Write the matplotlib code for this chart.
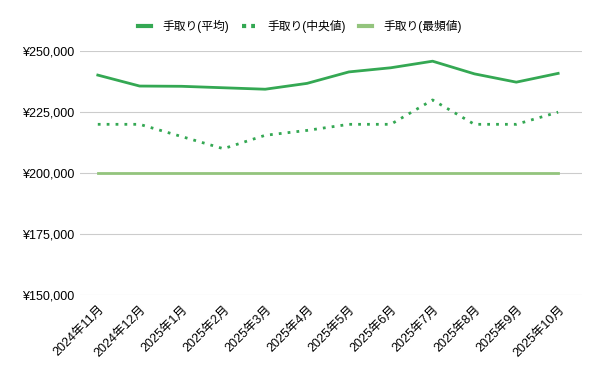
import matplotlib.pyplot as plt
from matplotlib.ticker import FuncFormatter

plt.rcParams['font.family'] = ['Liberation Sans', 'Noto Sans CJK JP', 'DejaVu Sans']

months = ["2024年11月", "2024年12月", "2025年1月", "2025年2月", "2025年3月", "2025年4月",
          "2025年5月", "2025年6月", "2025年7月", "2025年8月", "2025年9月", "2025年10月"]
avg = [240200, 235700, 235600, 235000, 234400, 236800,
       241500, 243200, 245900, 240700, 237300, 240900]
median = [220000, 220000, 215000, 210000, 215500, 217500,
          220000, 220000, 230000, 220000, 220000, 225000]
mode = [200000] * 12

fig = plt.figure(figsize=(6, 3.71), dpi=100)
ax = fig.add_axes([0.133, 0.205, 0.837, 0.657])

x = range(len(months))
ax.plot(x, avg, color="#34a853", linewidth=2, label="手取り(平均)")
ax.plot(x, median, color="#34a853", linewidth=2, linestyle=(0, (1, 2.2)), label="手取り(中央値)")
ax.plot(x, mode, color="#93c47d", linewidth=2, label="手取り(最頻値)")

ax.set_ylim(150000, 250000)
ax.set_yticks([150000, 175000, 200000, 225000, 250000])
ax.yaxis.set_major_formatter(FuncFormatter(lambda v, p: "¥{:,.0f}".format(v)))
ax.set_xlim(-0.43, 11.57)
ax.set_xticks(list(x))
ax.set_xticklabels(months, rotation=45, ha="right", rotation_mode="anchor", fontsize=9)
ax.tick_params(axis="y", labelsize=9, length=0, pad=4)
ax.tick_params(axis="x", length=0, pad=6)
ax.grid(axis="y", color="#cccccc", linewidth=0.8)
ax.set_axisbelow(True)
for s in ax.spines.values():
    s.set_visible(False)

leg = fig.legend(loc="upper center", bbox_to_anchor=(0.5, 0.975), ncol=3, frameon=False,
                 fontsize=8.5, handlelength=1.1, columnspacing=1.1, handletextpad=1.0)
for h in leg.legend_handles:
    h.set_linewidth(3)
leg.legend_handles[1].set_linestyle((0, (1, 1.2)))

fig.savefig("out.png", dpi=100)
